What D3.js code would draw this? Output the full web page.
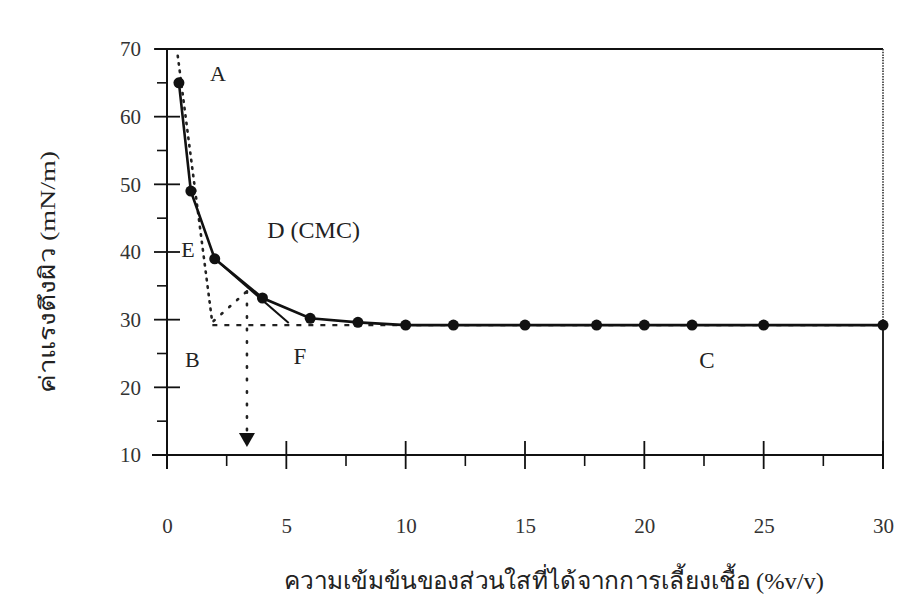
<!DOCTYPE html>
<html>
<head>
<meta charset="utf-8">
<script src="https://cdnjs.cloudflare.com/ajax/libs/d3/7.8.5/d3.min.js"></script>
<style>
body { margin:0; background:#fff; }
svg text { font-family: "Liberation Serif", "DejaVu Serif", serif; fill:#222; }
.tick text { font-size:21px; fill:#333; }
.letter { font-size:22px; }
.title { font-size:22px; }
</style>
</head>
<body>
<svg id="chart"></svg>
<script>
// concentration of supernatant (%v/v) and surface tension (mN/m)
var conc = [0.5, 1, 2, 4, 6, 8, 10, 12, 15, 18, 20, 22, 25, 30]
var tension = [65, 49, 39, 33.2, 30.2, 29.6, 29.2, 29.2, 29.2, 29.2, 29.2, 29.2, 29.2, 29.2]

var xTicks = [0, 5, 10, 15, 20, 25, 30]
var xMinor = [2.5, 7.5, 12.5, 17.5, 22.5, 27.5]
var yTicks = [10, 20, 30, 40, 50, 60, 70]
var yMinor = [15, 25, 35, 45, 55, 65]

// construction lines used to read the CMC
var tangentA = [[0.45, 69], [1.9, 29.5]]
var tangentE = [[2, 39], [5.1, 29.5]]
var baseC = [[1.9, 29.2], [30, 29.2]]
var bisect = [[1.95, 29.8], [3.35, 34.2]]
var arrowCMC = [[3.35, 34.2], [3.35, 11.2]]

var letters = [
  {t:"A", x:1.8, y:65.3, s:22},
  {t:"D (CMC)", x:4.2, y:42, s:24},
  {t:"E", x:0.6, y:39.3, s:22},
  {t:"B", x:0.75, y:23, s:22},
  {t:"F", x:5.3, y:23.5, s:23},
  {t:"C", x:22.3, y:22.8, s:23}
]

var screen = {width:898, height:602}
var margins = {top:49, bottom:147, left:167, right:15}
var graph = {
  width: screen.width - margins.left - margins.right,
  height: screen.height - margins.top - margins.bottom
}

var svg = d3.select("#chart")
  .attr("width", screen.width)
  .attr("height", screen.height)

var xScale = d3.scaleLinear().domain([0, 30]).range([margins.left, margins.left + graph.width])
var yScale = d3.scaleLinear().domain([10, 70]).range([margins.top + graph.height, margins.top])

var line = d3.line()
  .x(function(d){ return xScale(d[0]) })
  .y(function(d){ return yScale(d[1]) })

// frame: top solid, right dotted above the curve, solid below it
svg.append("line")
  .attr("x1", xScale(0) - 12).attr("x2", xScale(30))
  .attr("y1", yScale(70)).attr("y2", yScale(70))
  .attr("stroke", "#111").attr("stroke-width", 1.8)
svg.append("line")
  .attr("x1", xScale(30)).attr("x2", xScale(30))
  .attr("y1", yScale(70)).attr("y2", yScale(29.2))
  .attr("stroke", "#333").attr("stroke-width", 1.6)
  .attr("stroke-dasharray", "1.5,1.2")
svg.append("line")
  .attr("x1", xScale(30)).attr("x2", xScale(30))
  .attr("y1", yScale(29.2)).attr("y2", yScale(10) + 14)
  .attr("stroke", "#111").attr("stroke-width", 1.8)

// axes
var xAxis = d3.axisBottom(xScale).tickValues(xTicks).tickSize(0).tickPadding(63).tickFormat(d3.format("d"))
var yAxis = d3.axisLeft(yScale).tickValues(yTicks).tickSize(0).tickPadding(26)

var axes = svg.append("g")
axes.append("g")
  .attr("transform", "translate(0," + yScale(10) + ")")
  .call(xAxis)
  .call(function(g){ g.select(".domain").remove() })
axes.append("g")
  .attr("transform", "translate(" + xScale(0) + ",0)")
  .call(yAxis)
  .call(function(g){ g.select(".domain").remove() })

axes.append("line")
  .attr("x1", xScale(0) - 15).attr("x2", xScale(30))
  .attr("y1", yScale(10)).attr("y2", yScale(10))
  .attr("stroke", "#111").attr("stroke-width", 2)
axes.append("line")
  .attr("x1", xScale(0)).attr("x2", xScale(0))
  .attr("y1", yScale(70)).attr("y2", yScale(10) + 14)
  .attr("stroke", "#111").attr("stroke-width", 2)

axes.selectAll(".xmaj").data(xTicks).enter().append("line")
  .attr("x1", function(d){ return xScale(d) }).attr("x2", function(d){ return xScale(d) })
  .attr("y1", yScale(10) - 14).attr("y2", yScale(10) + 14)
  .attr("stroke", "#111").attr("stroke-width", 1.8)
axes.selectAll(".xmin").data(xMinor).enter().append("line")
  .attr("x1", function(d){ return xScale(d) }).attr("x2", function(d){ return xScale(d) })
  .attr("y1", yScale(10)).attr("y2", yScale(10) + 11)
  .attr("stroke", "#111").attr("stroke-width", 1.6)
axes.selectAll(".ymaj").data(yTicks).enter().append("line")
  .attr("x1", xScale(0) - 13).attr("x2", xScale(0) + 13)
  .attr("y1", function(d){ return yScale(d) }).attr("y2", function(d){ return yScale(d) })
  .attr("stroke", "#111").attr("stroke-width", 1.8)
axes.selectAll(".ymin").data(yMinor).enter().append("line")
  .attr("x1", xScale(0) - 10).attr("x2", xScale(0))
  .attr("y1", function(d){ return yScale(d) }).attr("y2", function(d){ return yScale(d) })
  .attr("stroke", "#111").attr("stroke-width", 1.6)

// construction lines
var guides = svg.append("g")
guides.append("path").datum(tangentA).attr("d", line)
  .attr("fill", "none").attr("stroke", "#222").attr("stroke-width", 2.6)
  .attr("stroke-dasharray", "1.5,6").attr("stroke-linecap", "round")
guides.append("path").datum(baseC).attr("d", line)
  .attr("fill", "none").attr("stroke", "#222").attr("stroke-width", 2.2)
  .attr("stroke-dasharray", "5,7")
guides.append("path").datum(bisect).attr("d", line)
  .attr("fill", "none").attr("stroke", "#222").attr("stroke-width", 2.6)
  .attr("stroke-dasharray", "1.5,9").attr("stroke-linecap", "round")
guides.append("path").datum(arrowCMC).attr("d", line)
  .attr("fill", "none").attr("stroke", "#222").attr("stroke-width", 2.6)
  .attr("stroke-dasharray", "1.5,11").attr("stroke-linecap", "round")
guides.append("path").datum(tangentE).attr("d", line)
  .attr("fill", "none").attr("stroke", "#111").attr("stroke-width", 2)

var tip = arrowCMC[1]
guides.append("path")
  .attr("d", "M" + (xScale(tip[0]) - 8) + "," + (yScale(tip[1]) - 14) +
             "L" + (xScale(tip[0]) + 8) + "," + (yScale(tip[1]) - 14) +
             "L" + xScale(tip[0]) + "," + yScale(tip[1]) + "Z")
  .attr("fill", "#111")

// data curve
var pts = conc.map(function(c, i){ return [c, tension[i]] })
svg.append("path").datum(pts).attr("d", line)
  .attr("fill", "none").attr("stroke", "#111").attr("stroke-width", 2.6)
svg.selectAll(".pt").data(pts).enter().append("circle")
  .attr("cx", function(d){ return xScale(d[0]) })
  .attr("cy", function(d){ return yScale(d[1]) })
  .attr("r", 5.5)
  .attr("fill", "#111")

// letters
svg.selectAll(".letter").data(letters).enter().append("text")
  .classed("letter", true)
  .attr("x", function(d){ return xScale(d.x) })
  .attr("y", function(d){ return yScale(d.y) })
  .style("font-size", function(d){ return d.s + "px" })
  .text(function(d){ return d.t })

// axis titles
svg.append("text")
  .classed("title", true)
  .attr("text-anchor", "middle")
  .attr("x", 554).attr("y", 589)
  .attr("textLength", 540)
  .attr("lengthAdjust", "spacingAndGlyphs")
  .style("font-size", "24px")
  .text("ความเข้มข้นของส่วนใสที่ได้จากการเลี้ยงเชื้อ (%v/v)")
svg.append("g")
  .attr("transform", "translate(55,272)")
  .append("text")
  .classed("title", true)
  .attr("text-anchor", "middle")
  .attr("transform", "rotate(-90)")
  .attr("textLength", 242)
  .attr("lengthAdjust", "spacingAndGlyphs")
  .text("ค่าแรงตึงผิว (mN/m)")
</script>
</body>
</html>
